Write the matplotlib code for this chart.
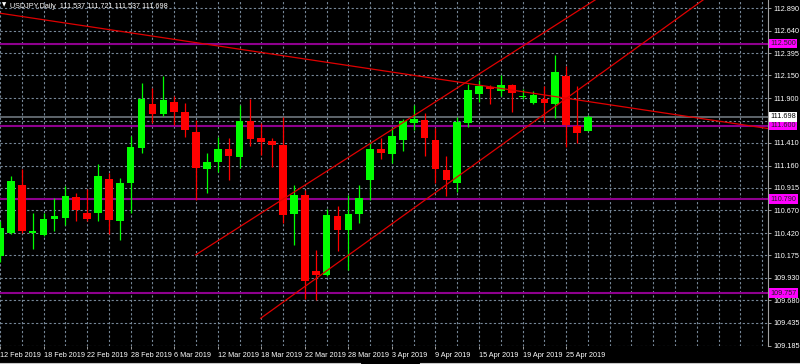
import numpy as np
import pandas as pd
import matplotlib
matplotlib.use('Agg')
import matplotlib.pyplot as plt
from matplotlib.lines import Line2D

# USDJPY daily, 12 Feb 2019 .. 29 Apr 2019
dates = pd.bdate_range('2019-02-12', '2019-04-29')
opens = [110.17, 110.42, 110.95, 110.42, 110.40, 110.57, 110.59, 110.82, 110.64, 110.64,
         111.01, 110.55, 110.97, 111.35, 111.84, 111.73, 111.86, 111.75, 111.53, 111.12,
         111.20, 111.34, 111.25, 111.65, 111.46, 111.43, 111.39, 110.63, 110.84, 110.00,
         109.96, 110.61, 110.45, 110.63, 111.00, 111.34, 111.29, 111.44, 111.63, 111.66,
         111.44, 111.11, 110.97, 111.63, 111.95, 112.02, 111.98, 112.05, 111.91, 111.85,
         111.89, 111.84, 112.14, 111.60, 111.537]
highs = [110.55, 111.05, 111.12, 110.64, 110.64, 110.81, 110.94, 110.86, 110.90, 111.18,
         111.08, 111.02, 111.49, 112.07, 112.01, 112.14, 111.92, 111.85, 111.66, 111.30,
         111.47, 111.46, 111.83, 111.89, 111.63, 111.46, 111.69, 110.95, 110.89, 110.23,
         110.68, 110.72, 110.84, 110.95, 111.42, 111.46, 111.58, 111.67, 111.83, 111.74,
         111.57, 111.27, 111.69, 112.06, 112.10, 112.05, 112.16, 112.06, 112.00, 111.98,
         112.03, 112.37, 112.25, 112.03, 111.721]
lows = [110.10, 110.41, 110.42, 110.24, 110.39, 110.44, 110.51, 110.55, 110.55, 110.55,
        110.41, 110.34, 110.64, 111.30, 111.63, 111.70, 111.61, 111.47, 110.78, 110.86,
        111.09, 111.00, 111.13, 111.37, 111.28, 111.15, 110.53, 110.29, 109.70, 109.69,
        109.95, 110.22, 110.01, 110.53, 110.78, 111.23, 111.19, 111.32, 111.55, 111.27,
        110.97, 110.83, 110.87, 111.58, 111.86, 111.84, 111.92, 111.75, 111.89, 111.84,
        111.64, 111.68, 111.36, 111.41, 111.537]
closes = [110.48, 110.99, 110.44, 110.44, 110.57, 110.61, 110.83, 110.67, 110.57, 111.05,
          110.56, 110.97, 111.36, 111.89, 111.73, 111.88, 111.75, 111.55, 111.13, 111.20,
          111.34, 111.27, 111.65, 111.45, 111.42, 111.39, 110.62, 110.84, 109.89, 109.96,
          110.62, 110.45, 110.63, 110.81, 111.34, 111.30, 111.49, 111.65, 111.67, 111.46,
          111.12, 111.00, 111.64, 111.99, 112.03, 112.00, 112.05, 111.96, 111.92, 111.94,
          111.85, 112.19, 111.61, 111.52, 111.698]

price_ticks = [112.890, 112.640, 112.395, 112.150, 111.900, 111.655, 111.410, 111.160,
               110.915, 110.670, 110.420, 110.175, 109.930, 109.680, 109.435, 109.185]
levels = [112.500, 111.600, 110.790, 109.757]
bid = 111.698

# trend lines: (bar index, price) end points
trend_x = [[-1.0, 70.6], [17.97, 60.0], [23.94, 70.0]]
trend_y = [[112.851, 111.566], [110.18, 113.386], [109.484, 113.445]]

plt.rcParams['font.family'] = ['Liberation Sans', 'DejaVu Sans']
FS = 5.2

fig = plt.figure(figsize=(8, 3.64), dpi=100, facecolor='black')
ax = fig.add_axes([0, 18 / 364, 768 / 800, 346 / 364], facecolor='black')

x = np.arange(len(opens))
o = np.array(opens); c = np.array(closes)
up = c >= o
col = np.where(up, '#00ff00', '#ff0000')

ax.vlines(x, lows, highs, colors=col, linewidth=0.9, zorder=3)
body = np.maximum(np.abs(c - o), 0.012)
ax.bar(x, body, bottom=np.minimum(o, c), width=0.7, color=col, linewidth=0, zorder=4)

ax.set_xlim(0.083, 70.54)
ax.set_ylim(109.180, 112.978)

# grid
grid = dict(color='#778899', linestyle=(0, (2, 2)), linewidth=0.8, zorder=1)
for gx in np.arange(0, 71, 2):
    ax.axvline(gx, **grid)
for gy in price_ticks:
    ax.axhline(gy, **grid)

for lv in levels:
    ax.axhline(lv, color='#8e008e', linewidth=1.5, zorder=2)
ax.axhline(bid, color='#6e767e', linewidth=1.2, zorder=2)

for tx, ty in zip(trend_x, trend_y):
    ax.plot(tx, ty, color='#e00000', linewidth=0.9, zorder=5)

# axes
for s in ['top', 'left', 'bottom']:
    ax.spines[s].set_visible(False)
ax.spines['right'].set_color('#a0a0a0')
ax.spines['right'].set_linewidth(0.8)

lab_idx = np.arange(0, len(dates), 4)
ax.set_xticks(lab_idx)
ax.set_xticklabels([f'{d.day} {d.strftime("%b %Y")}' for d in dates[lab_idx]])
for t in ax.get_xticklabels():
    t.set_ha('left')
ax.tick_params(axis='x', colors='#a0a0a0', labelcolor='white', labelsize=FS,
               length=2.5, width=0.7, pad=1.5, direction='out')

# 111.655 sits under the bid / level boxes, so its label stays empty
ax.yaxis.tick_right()
ax.set_yticks(price_ticks)
ax.set_yticklabels(['' if v == 111.655 else f'{v:.3f}' for v in price_ticks])
ax.tick_params(axis='y', colors='#a0a0a0', labelcolor='white', labelsize=FS,
               length=2.5, width=0.7, pad=1.2, direction='out')

# price labels on the scale
tr = ax.get_yaxis_transform()
for lv in levels:
    ax.text(1.003, lv, f'{lv:.3f}', transform=tr, ha='left', va='center', fontsize=FS,
            color='#202020', clip_on=False, zorder=10,
            bbox=dict(boxstyle='square,pad=0.2', fc='#ff00ff', ec='none'))
ax.text(1.003, bid, f'{bid:.3f}', transform=tr, ha='left', va='center', fontsize=FS,
        color='black', clip_on=False, zorder=10,
        bbox=dict(boxstyle='square,pad=0.2', fc='white', ec='none'))

# header
fig.text(2 / 800, 1 - 5 / 364, '\u25bc', color='white', fontsize=4, ha='left', va='center',
         family='DejaVu Sans')
fig.text(10 / 800, 1 - 6 / 364,
         'USDJPY,Daily  %.3f %.3f %.3f %.3f' % (opens[-1], highs[-1], lows[-1], closes[-1]),
         color='white', fontsize=FS, ha='left', va='center')

# window border at the bottom
fig.add_artist(Line2D([0, 360 / 800], [1.5 / 364, 1.5 / 364], color='#c8c8c8', linewidth=0.8))
fig.add_artist(Line2D([420 / 800, 1], [1.5 / 364, 1.5 / 364], color='#c8c8c8', linewidth=0.8))

fig.savefig('out.png', dpi=100, facecolor='black')
